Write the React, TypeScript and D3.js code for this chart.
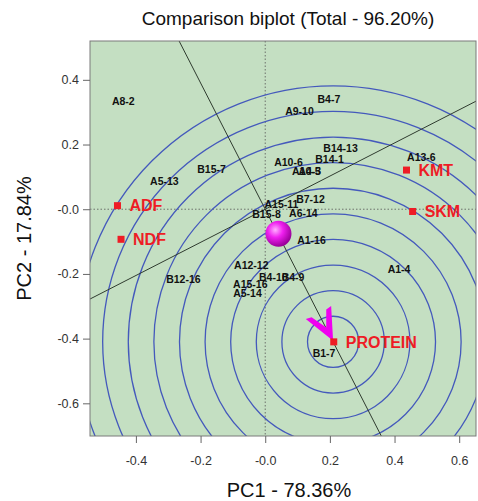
import { useEffect, useRef } from 'react'
import * as d3 from 'd3'

// genotype labels (black) – positions (PC1, PC2)
const GENOTYPES = [
  'A8-2', 'B4-7', 'A9-10', 'B15-7', 'A5-13', 'B14-13', 'A10-6', 'B14-1',
  'A13-6', 'A10-5', 'A4-3', 'A15-11', 'B7-12', 'B15-8', 'A6-14', 'A1-16',
  'A1-4', 'A12-12', 'B12-16', 'A15-16', 'A5-14', 'B4-10', 'B4-9', 'B1-7',
]
const GEN_X = [
  -0.439, 0.197, 0.106, -0.166, -0.312, 0.233, 0.072, 0.199,
  0.483, 0.127, 0.138, 0.050, 0.140, 0.004, 0.118, 0.143,
  0.414, -0.043, -0.253, -0.046, -0.055, 0.025, 0.086, 0.182,
]
const GEN_Y = [
  0.335, 0.341, 0.304, 0.125, 0.088, 0.190, 0.146, 0.156,
  0.162, 0.118, 0.118, 0.016, 0.032, -0.015, -0.011, -0.095,
  -0.185, -0.172, -0.216, -0.232, -0.259, -0.209, -0.209, -0.444,
]

// trait (environment) markers in red
const TRAITS = ['KMT', 'SKM', 'ADF', 'NDF', 'PROTEIN']
const TRAIT_X = [0.437, 0.456, -0.457, -0.446, 0.212]
const TRAIT_Y = [0.121, -0.007, 0.011, -0.093, -0.410]

const MEAN_POINT = [0.041, -0.076]
const IDEAL_POINT = [0.21, -0.41]
const RING_STEP = 0.0792
const RING_COUNT = 10

const X_DOMAIN = [-0.542, 0.652]
const Y_DOMAIN = [-0.701, 0.52]
const X_TICKS = [-0.4, -0.2, 0, 0.2, 0.4, 0.6]
const X_TICK_LABELS = ['-0.4', '-0.2', '-0.0', '0.2', '0.4', '0.6']
const Y_TICKS = [0.4, 0.2, 0, -0.2, -0.4, -0.6]
const Y_TICK_LABELS = ['0.4', '0.2', '-0.0', '-0.2', '-0.4', '-0.6']

const FONT = "Arial, 'Liberation Sans', sans-serif"

export default function App() {
  const svgRef = useRef<SVGSVGElement | null>(null)

  useEffect(() => {
    if (!svgRef.current) return
    const width = 478
    const height = 501
    const plot = { left: 90, top: 41, right: 476, bottom: 436 }

    const svg = d3.select(svgRef.current)
    svg.selectAll('*').remove()
    svg.attr('width', width).attr('height', height)

    const x = d3.scaleLinear().domain(X_DOMAIN).range([plot.left, plot.right])
    const y = d3.scaleLinear().domain(Y_DOMAIN).range([plot.bottom, plot.top])

    const defs = svg.append('defs')
    defs.append('clipPath').attr('id', 'plot-clip')
      .append('rect')
      .attr('x', plot.left).attr('y', plot.top)
      .attr('width', plot.right - plot.left).attr('height', plot.bottom - plot.top)
    const grad = defs.append('radialGradient').attr('id', 'ball')
      .attr('cx', '38%').attr('cy', '35%').attr('r', '65%')
    grad.append('stop').attr('offset', '0%').attr('stop-color', '#FFB0FF')
    grad.append('stop').attr('offset', '45%').attr('stop-color', '#F020F0')
    grad.append('stop').attr('offset', '100%').attr('stop-color', '#9A009A')

    // background
    svg.append('rect')
      .attr('x', plot.left).attr('y', plot.top)
      .attr('width', plot.right - plot.left).attr('height', plot.bottom - plot.top)
      .attr('fill', '#C4DFC2')

    const g = svg.append('g').attr('clip-path', 'url(#plot-clip)')

    // dotted zero lines
    g.append('line')
      .attr('x1', x(0)).attr('x2', x(0)).attr('y1', plot.top).attr('y2', plot.bottom)
      .attr('stroke', '#555').attr('stroke-width', 0.8).attr('stroke-dasharray', '1.5,2')
    g.append('line')
      .attr('x1', plot.left).attr('x2', plot.right).attr('y1', y(0)).attr('y2', y(0))
      .attr('stroke', '#555').attr('stroke-width', 0.8).attr('stroke-dasharray', '1.5,2')

    // concentric rings round the ideal point
    const rings = d3.range(1, RING_COUNT + 1).map((k) => k * RING_STEP)
    g.selectAll('circle.ring').data(rings).enter().append('circle')
      .attr('class', 'ring')
      .attr('cx', x(IDEAL_POINT[0])).attr('cy', y(IDEAL_POINT[1]))
      .attr('r', (r) => x(IDEAL_POINT[0] + r) - x(IDEAL_POINT[0]))
      .attr('fill', 'none').attr('stroke', '#4459BC').attr('stroke-width', 1.3)

    // average axis through origin and ideal point + its perpendicular
    const [ix, iy] = IDEAL_POINT
    const line = d3.line<number[]>().x((d) => x(d[0])).y((d) => y(d[1]))
    g.append('path').attr('d', line([[-3 * ix, -3 * iy], [3 * ix, 3 * iy]]))
      .attr('stroke', '#2F3B2F').attr('stroke-width', 1).attr('fill', 'none')
    g.append('path').attr('d', line([[-3 * iy, 3 * ix], [3 * iy, -3 * ix]]))
      .attr('stroke', '#2F3B2F').attr('stroke-width', 1).attr('fill', 'none')

    // arrow pointing at the ideal point
    const tipX = x(ix)
    const tipY = y(iy) - 1
    const back = Math.atan2(y(0) - tipY, x(0) - tipX)
    const arm = 35
    const spread = 0.42
    const pt = (a: number, len: number) => [tipX + len * Math.cos(a), tipY + len * Math.sin(a)]
    const a1 = pt(back - spread, arm)
    const a1b = pt(back - spread + 0.16, arm - 3)
    const notch = pt(back, 15)
    const a2b = pt(back + spread - 0.16, arm - 3)
    const a2 = pt(back + spread, arm)
    g.append('path')
      .attr('d', `M${tipX},${tipY}L${a1[0]},${a1[1]}L${a1b[0]},${a1b[1]}L${notch[0]},${notch[1]}L${a2b[0]},${a2b[1]}L${a2[0]},${a2[1]}Z`)
      .attr('fill', '#F000F0')

    // genotype labels
    g.selectAll('text.gen').data(GENOTYPES).enter().append('text')
      .attr('class', 'gen')
      .attr('x', (_, i) => x(GEN_X[i])).attr('y', (_, i) => y(GEN_Y[i]))
      .attr('dy', '0.36em').attr('text-anchor', 'middle')
      .attr('font-family', FONT).attr('font-size', 10.5).attr('font-weight', 'bold')
      .attr('fill', '#111')
      .text((d) => d)

    // trait markers
    TRAITS.forEach((name, i) => {
      const px = x(TRAIT_X[i])
      const py = y(TRAIT_Y[i])
      g.append('rect').attr('x', px - 3.5).attr('y', py - 3.5).attr('width', 7).attr('height', 7)
        .attr('fill', '#EE1C25')
      g.append('text').attr('x', px + 12).attr('y', py).attr('dy', '0.36em')
        .attr('font-family', FONT).attr('font-size', 16).attr('font-weight', 'bold')
        .attr('fill', '#EE1C25').text(name)
    })

    // mean point ball
    g.append('circle')
      .attr('cx', x(MEAN_POINT[0])).attr('cy', y(MEAN_POINT[1])).attr('r', 13)
      .attr('fill', 'url(#ball)')

    // frame
    svg.append('rect')
      .attr('x', plot.left).attr('y', plot.top)
      .attr('width', plot.right - plot.left).attr('height', plot.bottom - plot.top)
      .attr('fill', 'none').attr('stroke', '#7A7A7A').attr('stroke-width', 1)

    // axes
    const xAxis = svg.append('g').attr('transform', `translate(0,${plot.bottom})`)
      .call(d3.axisBottom(x).tickValues(X_TICKS).tickSize(7).tickPadding(13)
        .tickFormat((_, i) => X_TICK_LABELS[i]))
    const yAxis = svg.append('g').attr('transform', `translate(${plot.left},0)`)
      .call(d3.axisLeft(y).tickValues(Y_TICKS).tickSize(7).tickPadding(4)
        .tickFormat((_, i) => Y_TICK_LABELS[i]))
    ;[xAxis, yAxis].forEach((ax) => {
      ax.select('.domain').remove()
      ax.selectAll('line').attr('stroke', '#666')
      ax.selectAll('text').attr('fill', '#333').style('font-size', '12.5px').style('font-family', FONT)
    })

    // titles
    svg.append('text').attr('x', 288).attr('y', 25).attr('text-anchor', 'middle')
      .attr('font-family', FONT).attr('font-size', 19).attr('fill', '#111')
      .text('Comparison biplot (Total - 96.20%)')
    svg.append('text').attr('x', 289).attr('y', 497).attr('text-anchor', 'middle')
      .attr('font-family', FONT).attr('font-size', 20).attr('fill', '#111')
      .text('PC1 - 78.36%')
    svg.append('text').attr('transform', `translate(31,${(plot.top + plot.bottom) / 2}) rotate(-90)`)
      .attr('text-anchor', 'middle')
      .attr('font-family', FONT).attr('font-size', 20).attr('fill', '#111')
      .text('PC2 - 17.84%')
  }, [])

  return (
    <svg ref={svgRef} style={{ position: 'absolute', left: 0, top: 0, background: '#fff' }} />
  )
}
